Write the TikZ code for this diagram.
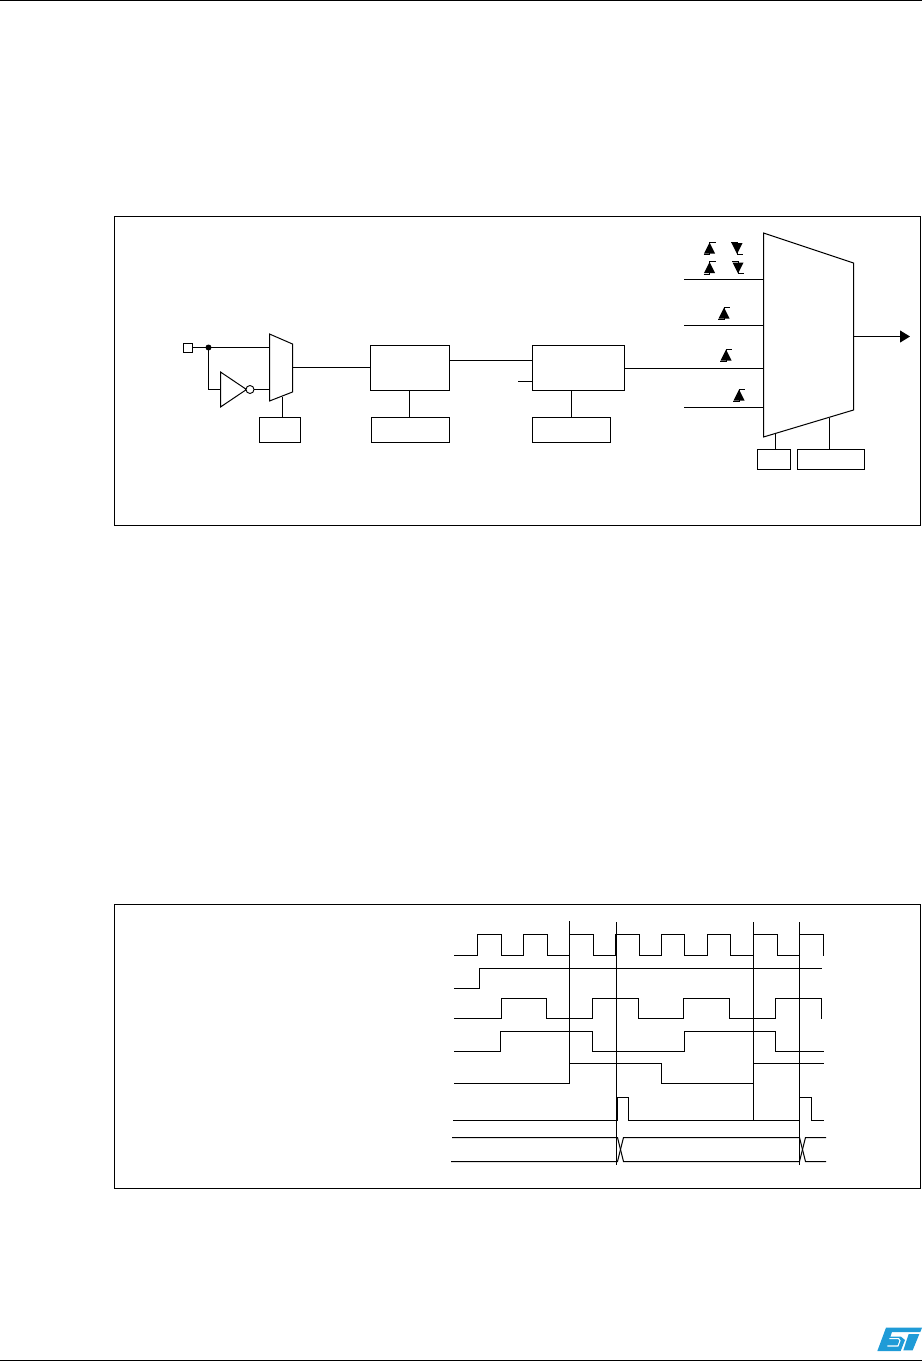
\documentclass[tikz,border=0pt]{standalone}
\usetikzlibrary{arrows.meta}
\definecolor{stblue}{HTML}{1F9BD7}
\newlength{\pxu}\setlength{\pxu}{0.75pt}
\tikzset{
  x=0.75pt,y=-0.75pt,
  wire/.style={line width=0.75pt,black},
  wave/.style={line width=0.75pt,black,line join=miter},
  cursor/.style={line width=0.75pt,black},
  framebox/.style={draw=black,line width=0.75pt},
  blockbox/.style={draw=black,line width=0.75pt,fill=white,inner sep=0pt,outer sep=0pt},
  muxshape/.style={draw=black,line width=0.75pt,fill=white,line join=miter},
  rise/.pic={
    \fill[black] (-5.5,5.5)--(5.5,5.5)--(0,-5.5)--cycle;
    \draw[line width=0.6pt,black] (-6,6.5)--(0,6.5)--(0,-6)--(6,-6);
  },
  fallsym/.pic={
    \fill[black] (-5.5,-5)--(5.5,-5)--(0,6)--cycle;
    \draw[line width=0.6pt,black] (-6,-6)--(0,-6)--(0,6)--(6,6);
  }
}
\begin{document}
\begin{tikzpicture}
\useasboundingbox (0,0) rectangle (922,1361);
% page rules
\coordinate (tl) at (0,0.5); \coordinate (tr) at (922,0.5);
\coordinate (bl) at (0,1360.5); \coordinate (br) at (922,1360.5);
\draw[line width=0.85pt] (tl)--(tr);
\draw[line width=0.85pt] (bl)--(br);
% frames
\draw[framebox] (114.5,216.5) rectangle (920.5,525.5);
\draw[framebox] (114.5,904.5) rectangle (920.5,1188.5);

% ---- top block diagram ----
\node[blockbox,minimum width=9\pxu,minimum height=9\pxu] (pin) at (188,348) {};
\node[blockbox,minimum width=79\pxu,minimum height=45\pxu] (presc) at (410,368) {};
\node[blockbox,minimum width=92\pxu,minimum height=45\pxu] (edge) at (578.5,368) {};
\node[blockbox,minimum width=41\pxu,minimum height=25\pxu] (pol) at (280,430) {};
\node[blockbox,minimum width=78\pxu,minimum height=25\pxu] (cfg1) at (410.5,430) {};
\node[blockbox,minimum width=78\pxu,minimum height=25\pxu] (cfg2) at (571.5,430) {};
\node[blockbox,minimum width=33\pxu,minimum height=20\pxu] (sel1) at (774,459.5) {};
\node[blockbox,minimum width=67\pxu,minimum height=20\pxu] (sel2) at (831,459.5) {};

% small mux
\coordinate (ma) at (269.5,334); \coordinate (mb) at (292.5,344);
\coordinate (mc) at (292.5,392); \coordinate (md) at (269.5,401);
\draw[muxshape] (ma)--(mb)--(mc)--(md)--cycle;
% inverter
\coordinate (inva) at (220.5,372); \coordinate (invb) at (220.5,407); \coordinate (invc) at (246.5,389.5);
\draw[muxshape] (inva)--(invc)--(invb)--cycle;
\node[circle,draw=black,line width=0.7pt,fill=white,minimum size=8\pxu,inner sep=0pt,outer sep=0pt] (bub) at (250,389.5) {};
\node[circle,fill=black,minimum size=6\pxu,inner sep=0pt] (dot) at (208.5,347.5) {};
\coordinate (muxa) at (269.5,347.5);
\coordinate (muxb) at (269.5,389.5);
\coordinate (muxo) at (292.5,367.5);
\coordinate (muxs) at (282.5,396.5);
\draw[wire] (pin.east |- muxa)--(muxa);
\draw[wire] (dot.center)--(208.5,389.5)--(220.5,389.5);
\draw[wire] (bub.east)--(muxb);
\draw[wire] (muxo)--(presc.west |- muxo);
\draw[wire] (muxs)--(muxs |- pol.north);
% block links
\coordinate (p1) at (409.5,390.5);
\draw[wire] (p1)--(p1 |- cfg1.north);
\coordinate (e1) at (532.5,360.5);
\draw[wire] (e1 -| presc.east)--(e1);
\coordinate (ein) at (518,381.5);
\draw[wire] (ein)--(ein -| edge.west);
\draw[wire] (cfg2.north) -- (cfg2.north |- edge.south);

% big mux
\coordinate (Ma) at (763.5,233); \coordinate (Mb) at (853.5,263);
\coordinate (Mc) at (853.5,410); \coordinate (Md) at (763.5,437);
\draw[muxshape] (Ma)--(Mb)--(Mc)--(Md)--cycle;
\coordinate (i1) at (684,279.5); \coordinate (i2) at (684,325.5); \coordinate (i4) at (684,407.5);
\draw[wire] (i1)--(763.5,279.5);
\draw[wire] (i2)--(763.5,325.5);
\coordinate (i3) at (763.5,368.5);
\draw[wire] (i3 -| edge.east)--(i3);
\draw[wire] (i4)--(763.5,407.5);
\coordinate (Mo) at (853.5,336.5); \coordinate (out) at (910,336.5);
\draw[wire,-{Triangle[length=7.5pt,width=9pt]}] (Mo)--(out);
\draw[wire] (775.5,433.5)--(775.5,449.5);
\draw[wire] (829.5,417.5)--(829.5,449.5);
% edge symbols
\pic at (709.5,248) {rise};
\pic at (737,248) {fallsym};
\pic at (709.5,267.5) {rise};
\pic at (738,267.5) {fallsym};
\pic at (724,313) {rise};
\pic at (726,355) {rise};
\pic at (739,395) {rise};

% ---- timing diagram ----
% row 1
\draw[wave] (454,955.5)-|(477.5,934.5)-|(501.5,955.5)-|(523.5,934.5)-|(547.5,955.5)-|(569.5,934.5)-|(593.5,955.5)-|(615.5,934.5)-|(639.5,955.5)-|(661.5,934.5)-|(684.5,955.5)-|(707.5,934.5)-|(730.5,955.5)-|(753.5,934.5)-|(777.5,955.5)-|(799.5,934.5)-|(823.5,955.5);
% row 2
\draw[wave] (454,988.5)-|(479.5,968.5)--(822,968.5);
% row 3
\draw[wave] (454,1018.5)-|(501.5,998.5)-|(546.5,1018.5)-|(592.5,998.5)-|(638.5,1018.5)-|(683.5,998.5)-|(729.5,1018.5)-|(775.5,998.5)-|(821.5,1018.5);
% row 4
\draw[wave] (454,1051.5)-|(500.5,1031.5)-|(592.5,1051.5)-|(684.5,1031.5)-|(775.5,1051.5)--(824,1051.5);
% row 5
\draw[wave] (454,1083.5)-|(569.5,1063.5)-|(661.5,1083.5)-|(753.5,1063.5)--(824,1063.5);
% row 6
\draw[wave] (453,1120.5)-|(617.5,1097.5)-|(628.5,1120.5)-|(799.5,1097.5)-|(811.5,1120.5)--(824,1120.5);
% bus
\draw[wave] (452,1137.5)--(617.5,1137.5)--(623.5,1161.5)--(799.5,1161.5)--(805.5,1137.5)--(826,1137.5);
\draw[wave] (451,1161.5)--(617.5,1161.5)--(623.5,1137.5)--(799.5,1137.5)--(805.5,1161.5)--(826,1161.5);
% cursors
\coordinate (c1t) at (569.5,921); \coordinate (c1b) at (569.5,1083.5);
\coordinate (c2t) at (616.5,922); \coordinate (c2b) at (616.5,1165);
\coordinate (c3t) at (753.5,922); \coordinate (c3b) at (753.5,1120.5);
\coordinate (c4t) at (799.5,922); \coordinate (c4b) at (799.5,1165);
\draw[cursor] (c1t)--(c1b);
\draw[cursor] (c2t)--(c2b);
\draw[cursor] (c3t)--(c3b);
\draw[cursor] (c4t)--(c4b);

% logo
\begin{scope}[shift={(800,1290)},x=0.25pt,y=-0.25pt]
\fill[stblue] (258,113)--(366,113)--(361,126)--(276,126)--(271,140)--(303,140)--(315,150)--(302,183)--(232,183)--cycle;
\fill[stblue] (326,132)--(358,132)--(338,181)--(310,181)--cycle;
\draw[white,line width=0.8pt] (268,146)--(296,146)--(300,152)--(294,168)--(262,168);
\end{scope}
\end{tikzpicture}
\end{document}
